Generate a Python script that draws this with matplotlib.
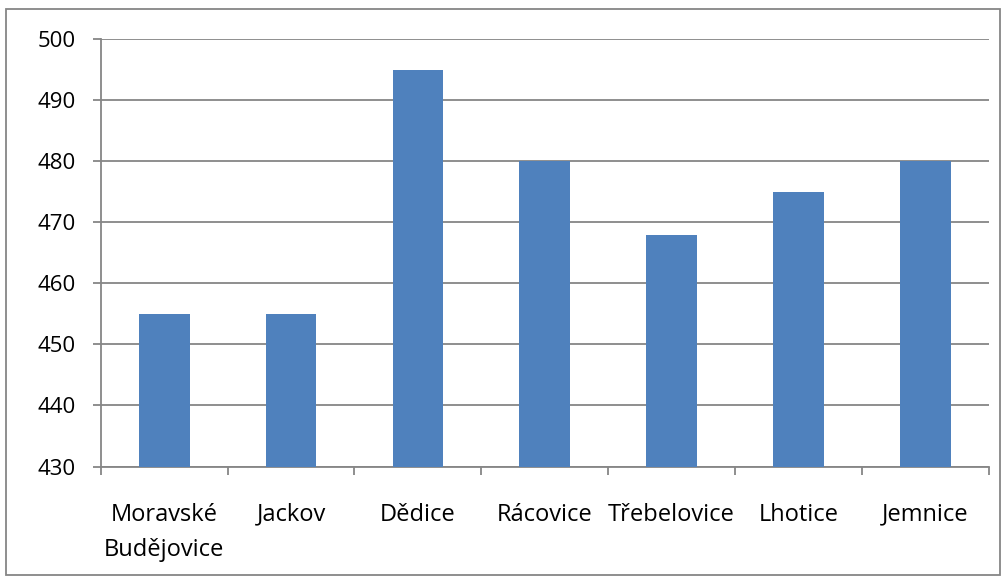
import matplotlib
matplotlib.use("Agg")
import matplotlib.pyplot as plt
from matplotlib.patches import Rectangle

categories = ["Moravské\nBudějovice", "Jackov", "Dědice", "Rácovice",
              "Třebelovice", "Lhotice", "Jemnice"]
values = [455, 455, 495, 480, 468, 475, 480]
yticks = [430, 440, 450, 460, 470, 480, 490, 500]

plt.rcParams["font.family"] = ["Open Sans", "DejaVu Sans"]
GRID = "#868686"

fig = plt.figure(figsize=(10.07, 5.81), dpi=100)
ax = fig.add_axes([0.1, 0.197, 0.882, 0.7355])

x = list(range(len(categories)))
ax.bar(x, values, width=0.4, color="#4F81BD", zorder=3)

ax.set_xlim(-0.5, len(categories) - 0.5)
ax.set_ylim(430, 500)
ax.set_yticks(yticks)
ax.set_xticks(x)
ax.set_xticklabels(categories, fontsize=17, linespacing=1.65)
ax.tick_params(axis="y", labelsize=16, length=6, color=GRID, width=1.3, pad=12)
ax.set_xticks([i - 0.5 for i in range(len(categories) + 1)], minor=True)
ax.tick_params(axis="x", which="major", length=0, pad=26)
ax.tick_params(axis="x", which="minor", length=6, color=GRID, width=1.3)

ax.grid(axis="y", color=GRID, linewidth=1.3, zorder=0)
for side in ("top", "right"):
    ax.spines[side].set_visible(False)
for side in ("left", "bottom"):
    ax.spines[side].set_color(GRID)
    ax.spines[side].set_linewidth(1.3)

# outer chart border
fig.patches.append(Rectangle((0.006, 0.01), 0.987, 0.975, transform=fig.transFigure,
                             fill=False, edgecolor=GRID, linewidth=1.3))

fig.savefig("out.png", dpi=100)
